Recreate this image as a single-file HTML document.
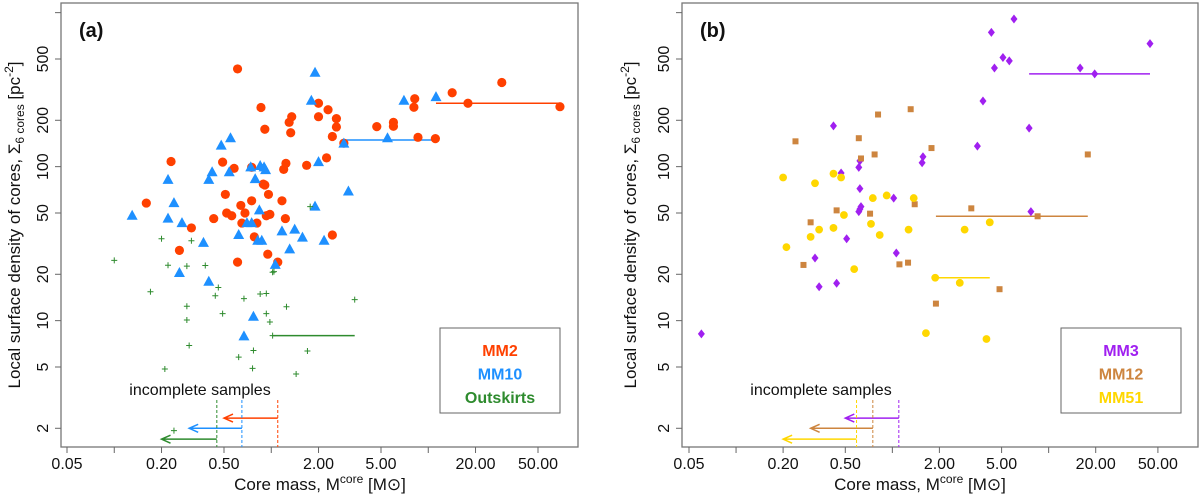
<!DOCTYPE html>
<html><head><meta charset="utf-8"><style>
body{margin:0;background:#fff}
svg{display:block;font-family:"Liberation Sans",sans-serif}
</style></head><body>
<svg id="chart" width="1200" height="495" viewBox="0 0 1200 495"></svg>
<script>
// ---------- Panel (a) data ----------
const mm2Mass=[0.61,29.4,14.2,8.2,2.0,17.9,69,0.86,8.1,2.3,1.35,1.3,2.6,2.0,2.6,4.7,6.0,6.0,0.91,1.33,2.45,8.6,11.1,2.9,2.25,0.23,0.49,1.24,1.68,0.58,1.2,0.75,0.89,0.91,0.51,0.96,1.17,0.75,0.16,0.64,0.52,0.68,0.56,0.98,0.93,1.23,0.43,0.65,0.81,0.31,0.78,2.45,0.26,0.95,1.1,0.61];
const mm2Sigma=[431,352,302,276,258,258,245,242,243,234,211,194,205,211,181,182,194,183,175,166,157,155,152,142,114,108,107,105,102,97.5,96,99,77,76,66,66,60,60,58,56,50,50,48,49,48,46,46,43,43,40,35,36,28.6,27,24,24];
const mm10Mass=[1.9,11.2,7.0,1.8,0.55,0.48,5.5,2.9,2.0,0.74,0.85,0.9,0.92,0.42,0.54,0.79,0.40,0.22,3.1,0.24,1.9,0.13,0.22,0.84,0.27,0.70,0.75,0.62,1.17,1.41,1.58,2.17,0.37,0.82,0.87,1.31,1.06,0.26,0.40,0.77,0.67];
const mm10Sigma=[407,283,268,268,153,137,153,141,107,99,101,99,95,92,92,83,82,82,69,58,55,48,46,52,43,43,43,36,38,39,34.6,33,32,33,33,29,23,20.4,17.9,10.6,7.9];
const outMass=[0.10,0.20,0.22,0.31,0.29,0.17,0.38,0.46,0.44,0.29,0.29,0.30,0.21,0.49,0.67,0.85,0.93,1.02,1.04,1.25,0.93,0.98,1.77,3.4,1.02,1.7,0.77,0.62,0.76,1.44,0.24];
const outSigma=[24.6,34,22.9,33,22.6,15.4,22.8,16.4,14.5,12.4,10.1,6.9,4.85,11.1,13.9,14.9,15,20.6,20.8,12.3,11.1,9.8,55,13.7,8.0,6.35,6.4,5.8,4.9,4.5,1.93];
const rangeA=[{y:258,lo:11.2,hi:69,c:"#ff4000"},{y:149,lo:2.9,hi:11.2,c:"#1e90ff"},{y:8.0,lo:1.02,hi:3.4,c:"#2e8b2e"}];
const limitA=[{m:1.1,tip:0.5,y:2.33,c:"#ff4000"},{m:0.65,tip:0.30,y:2.0,c:"#1e90ff"},{m:0.45,tip:0.20,y:1.70,c:"#2e8b2e"}];
// ---------- Panel (b) data ----------
const mm3Mass=[6.0,4.3,44.5,5.1,5.6,4.5,15.9,19.7,3.8,0.42,7.5,3.5,1.57,1.55,0.62,0.61,0.47,0.62,1.02,0.63,0.62,0.61,7.7,0.51,0.32,1.06,0.44,0.34,0.06];
const mm3Sigma=[910,745,629,511,486,437,437,400,267,184,178,136,116,106,109,99,91,72,62.5,55,53,51,51,34,25.5,27.5,17.5,16.6,8.2];
const mm12Mass=[1.31,0.81,0.24,0.61,1.78,0.77,0.63,17.8,1.39,3.2,0.44,0.72,8.5,0.30,0.27,1.11,1.26,4.85,1.9];
const mm12Sigma=[236,218,146,153,132,120,113,120,57,53.6,52,49.5,47.6,43.5,23,23.2,23.8,16,12.9];
const mm51Mass=[0.20,0.32,0.42,0.47,0.92,0.75,1.37,0.49,0.73,4.2,0.34,0.42,1.27,2.9,0.83,0.30,0.21,0.57,1.88,2.7,1.64,4.0];
const mm51Sigma=[85,78,90,85,65,62.5,62.5,48.5,42.5,43.5,39,40,39,39,36,35,30,21.6,19,17.6,8.3,7.6];
const rangeB=[{y:400,lo:7.5,hi:44.5,c:"#a020f0"},{y:47.6,lo:1.9,hi:17.8,c:"#cd853f"},{y:19,lo:1.88,hi:4.2,c:"#ffd700"}];
const limitB=[{m:1.1,tip:0.5,y:2.33,c:"#a020f0"},{m:0.75,tip:0.30,y:2.0,c:"#cd853f"},{m:0.59,tip:0.20,y:1.70,c:"#ffd700"}];
const yTicks=[1000,500,200,100,50,20,10,5,2];
const yLabels=["","500","200","100","50","20","10","5","2"];
const xTicks=[0.05,0.1,0.2,0.5,1,2,5,10,20,50];
const xLabels=["0.05","","0.20","0.50","","2.00","5.00","","20.00","50.00"];

const NS="http://www.w3.org/2000/svg";
const svg=document.getElementById("chart");
function mk(tag,attrs,parent){const e=document.createElementNS(NS,tag);for(const k in attrs)e.setAttribute(k,attrs[k]);(parent||svg).appendChild(e);return e;}
const yScale=v=>59+154*Math.log10(500/v);

function panel(P){
  const g=mk("g",{});
  
  
  const xs=m=>P.x0+P.dec*Math.log10(m/0.05);
  const f=mk("rect",{x:P.left,y:3,width:P.right-P.left,height:444,fill:"none",stroke:"#777","stroke-width":1.3},g);
  
  
  yTicks.forEach((v,i)=>{
    const y=yScale(v);
    const t=mk("line",{x1:P.left-6,x2:P.left,y1:y,y2:y,stroke:"#666"},g);
    
    
    if(yLabels[i]){
      const lx=P.left-13;
      const tx=mk("text",{x:lx,y:y,"font-size":16,"text-anchor":"middle",transform:`rotate(-90 ${lx} ${y})`,fill:"#111"},g);
      tx.textContent=yLabels[i];
      
      
    }
  });
  xTicks.forEach((m,i)=>{
    const x=xs(m);
    const t=mk("line",{x1:x,x2:x,y1:447,y2:453,stroke:"#666"},g);
    
    
    if(xLabels[i]){
      const tx=mk("text",{x:x,y:469,"font-size":16,"text-anchor":"middle",fill:"#111"},g);
      tx.textContent=xLabels[i];
      
      
    }
  });
  const xt=mk("text",{x:P.xTitle,y:490,"font-size":17,"text-anchor":"middle",fill:"#111"},g);
  xt.innerHTML='Core mass, M<tspan dy="-7" font-size="12">core</tspan><tspan dy="7">  [M</tspan><tspan>&#x2299;</tspan>]';
  
  
  const yt=mk("text",{x:P.yTitleX,y:225,"font-size":17,"text-anchor":"middle",transform:`rotate(-90 ${P.yTitleX} 225)`,fill:"#111"},g);
  yt.innerHTML='Local surface density of cores, &#931;<tspan dy="4" font-size="12">6 cores</tspan><tspan dy="-4">  [pc</tspan><tspan dy="-7" font-size="12">-2</tspan><tspan dy="7">]</tspan>';
  
  
  const pl=mk("text",{x:P.left+18,y:37,"font-size":20,"font-weight":"bold",fill:"#111"},g);
  pl.textContent=P.label;
  
  
  P.ranges.forEach(r=>{
    const l=mk("line",{x1:xs(r.lo),x2:xs(r.hi),y1:yScale(r.y),y2:yScale(r.y),stroke:r.c,"stroke-width":1.5},g);
    
    
  });
  P.series.forEach(s=>{
    s.mass.forEach((m,i)=>{
      const x=xs(m),y=yScale(s.sig[i]);let e;
      if(s.shape==="circle")e=mk("circle",{cx:x,cy:y,r:s.r,fill:s.c},g);
      else if(s.shape==="tri")e=mk("polygon",{points:`${x},${y-6} ${x-5.5},${y+4} ${x+5.5},${y+4}`,fill:s.c},g);
      else if(s.shape==="diamond")e=mk("polygon",{points:`${x},${y-4.5} ${x+3.5},${y} ${x},${y+4.5} ${x-3.5},${y}`,fill:s.c},g);
      else if(s.shape==="square")e=mk("rect",{x:x-3,y:y-3,width:6,height:6,fill:s.c},g);
      else e=mk("path",{d:`M${x-3} ${y}H${x+3}M${x} ${y-3}V${y+3}`,stroke:s.c,"stroke-width":1},g);
      
      
    });
  });
  const it=mk("text",{x:P.incX,y:395,"font-size":16,"text-anchor":"middle",fill:"#111"},g);
  it.textContent="incomplete samples";
  
  
  P.limits.forEach(L=>{
    const x=xs(L.m),tx=xs(L.tip),y=yScale(L.y);
    const d=mk("line",{x1:x,x2:x,y1:400,y2:447,stroke:L.c,"stroke-dasharray":"3,2","stroke-width":1},g);
    
    
    const a=mk("path",{d:`M${x} ${y}H${tx}M${tx+9} ${y-4}L${tx} ${y}L${tx+9} ${y+4}`,stroke:L.c,fill:"none","stroke-width":1.5},g);
    
    
  });
  const lg=mk("g",{},g);
  
  
  mk("rect",{x:P.legX,y:328,width:120,height:85,fill:"#fff",stroke:"#666"},lg);
  P.series.forEach((s,i)=>{
    const t=mk("text",{x:P.legX+60,y:356+i*23.5,"font-size":16,"font-weight":"bold","text-anchor":"middle",fill:s.c},lg);
    t.textContent=s.label;
    
    
  });
}
panel({name:"panel-a",label:"(a)",left:61,right:578,x0:67,dec:157,xTitle:320,yTitleX:20,incX:200,legX:440,ranges:rangeA,limits:limitA,
 series:[{name:"mm2",label:"MM2",c:"#ff4000",shape:"circle",r:4.6,mass:mm2Mass,sig:mm2Sigma},
         {name:"mm10",label:"MM10",c:"#1e90ff",shape:"tri",mass:mm10Mass,sig:mm10Sigma},
         {name:"outskirts",label:"Outskirts",c:"#2e8b2e",shape:"plus",mass:outMass,sig:outSigma}]});
panel({name:"panel-b",label:"(b)",left:682,right:1198,x0:689,dec:156.3,xTitle:920,yTitleX:636,incX:821,legX:1061,ranges:rangeB,limits:limitB,
 series:[{name:"mm3",label:"MM3",c:"#a020f0",shape:"diamond",mass:mm3Mass,sig:mm3Sigma},
         {name:"mm12",label:"MM12",c:"#cd853f",shape:"square",mass:mm12Mass,sig:mm12Sigma},
         {name:"mm51",label:"MM51",c:"#ffd700",shape:"circle",r:3.9,mass:mm51Mass,sig:mm51Sigma}]});
</script>
</body></html>
